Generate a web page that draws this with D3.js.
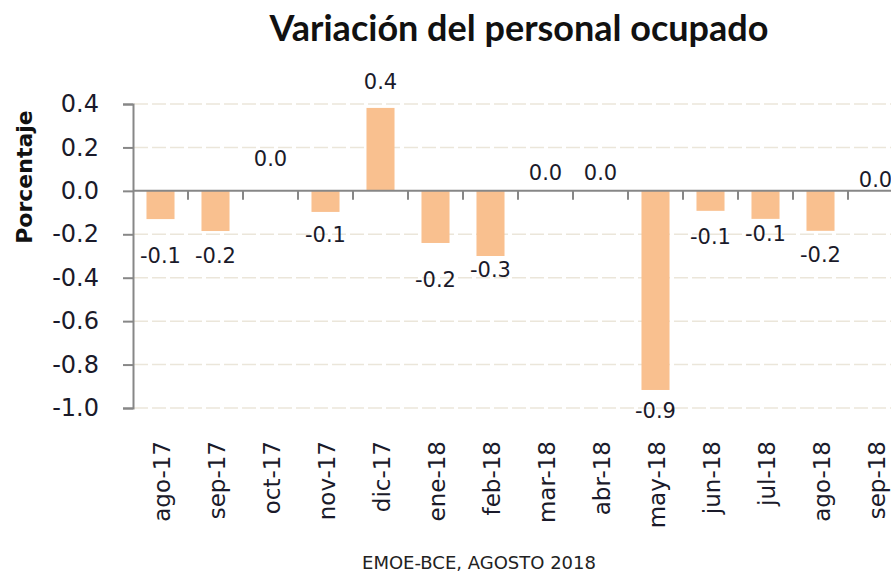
<!DOCTYPE html>
<html>
<head>
<meta charset="utf-8">
<script src="https://cdn.jsdelivr.net/npm/d3@7"></script>
<style>
	body { margin: 0; background: #fff; }
	svg { display: block; }
</style>
</head>
<body>
<svg width="891" height="578"></svg>
<script>
// datos
const months = ["ago-17", "sep-17", "oct-17", "nov-17", "dic-17", "ene-18", "feb-18",
	"mar-18", "abr-18", "may-18", "jun-18", "jul-18", "ago-18", "sep-18"];
const values = [-0.13, -0.185, 0.0, -0.097, 0.382, -0.24, -0.30,
	0.0, 0.0, -0.917, -0.092, -0.129, -0.184, 0.0];
const yTicks = [0.4, 0.2, 0.0, -0.2, -0.4, -0.6, -0.8, -1.0];
const titleText = "Variación del personal ocupado";
const yTitle = "Porcentaje";
const footerText = "EMOE-BCE, AGOSTO 2018";

// separación manual de las etiquetas (px desde el extremo de la barra)
const labelGap = [36, 24, 32, 23, 26, 36, 13, 18, 18, 20, 26, 15, 24, 11];

const svg = d3.select("svg");
// guion normal en vez del signo menos de d3
const fmt = (d) => d3.format(".1f")(d).replace("\u2212", "-");

const x = d3.scaleBand()
	.domain(months)
	.range([133, 903])
	.paddingInner(0.49)
	.paddingOuter(0.245);
const y = d3.scaleLinear().domain([-1.0, 0.4]).range([408, 104]);
const step = x.step();

// gridlines
svg.append("g")
	.selectAll("line")
	.data(yTicks.filter((d) => d !== 0))
	.join("line")
	.attr("x1", 134)
	.attr("x2", 891)
	.attr("y1", (d) => y(d))
	.attr("y2", (d) => y(d))
	.attr("stroke", "#ebe6da")
	.attr("stroke-width", 1.5)
	.attr("stroke-dasharray", "14,4");

// bars
svg.append("g")
	.selectAll("rect")
	.data(values)
	.join("rect")
	.attr("x", (d, i) => x(months[i]))
	.attr("width", x.bandwidth())
	.attr("y", (d) => Math.min(y(d), y(0)))
	.attr("height", (d) => Math.abs(y(d) - y(0)))
	.attr("fill", "#f9c08f");

// y axis
const yAxisG = svg.append("g").attr("transform", "translate(133,0)");
yAxisG.call(
	d3.axisLeft(y).tickValues(yTicks).tickSize(10).tickPadding(24).tickFormat(fmt),
);
yAxisG.select(".domain").attr("stroke", "#878787").attr("stroke-width", 2);
yAxisG.selectAll(".tick line").attr("stroke", "#878787").attr("stroke-width", 2);
yAxisG.selectAll(".tick text")
	.attr("font-family", "DejaVu Sans")
	.attr("font-size", 24)
	.attr("fill", "#1a1a2a");

// x axis at zero
svg.append("line")
	.attr("x1", 133)
	.attr("x2", 891)
	.attr("y1", y(0))
	.attr("y2", y(0))
	.attr("stroke", "#878787")
	.attr("stroke-width", 2);
svg.append("g")
	.selectAll("line")
	.data(months)
	.join("line")
	.attr("x1", (d) => x(d) + x.bandwidth() + (step - x.bandwidth()) / 2)
	.attr("x2", (d) => x(d) + x.bandwidth() + (step - x.bandwidth()) / 2)
	.attr("y1", y(0))
	.attr("y2", y(0) + 9)
	.attr("stroke", "#878787")
	.attr("stroke-width", 2);

// category labels at the bottom
svg.append("g")
	.selectAll("text")
	.data(months)
	.join("text")
	.attr("transform", (d) => `translate(${x(d) + x.bandwidth() / 2 + 9},441) rotate(-90)`)
	.attr("text-anchor", "end")
	.attr("font-family", "DejaVu Sans")
	.attr("font-size", 23)
	.attr("fill", "#1a1a2a")
	.text((d) => d);

// data labels
svg.append("g")
	.selectAll("text")
	.data(values)
	.join("text")
	.attr("x", (d, i) => x(months[i]) + x.bandwidth() / 2)
	.attr("y", (d, i) => (d < 0 ? y(d) + labelGap[i] : y(d) - labelGap[i]))
	.attr("dy", "0.36em")
	.attr("text-anchor", "middle")
	.attr("font-family", "DejaVu Sans")
	.attr("font-size", 21)
	.attr("fill", "#1a1a2a")
	.text((d) => fmt(d));

// title
svg.append("text")
	.attr("x", 519)
	.attr("y", 41)
	.attr("text-anchor", "middle")
	.attr("font-family", "Lato")
	.attr("font-weight", "bold")
	.attr("font-size", 36)
	.attr("fill", "#111")
	.text(titleText);

// y axis title
svg.append("text")
	.attr("transform", "translate(32,177) rotate(-90)")
	.attr("text-anchor", "middle")
	.attr("font-family", "DejaVu Sans")
	.attr("font-weight", "bold")
	.attr("font-size", 22)
	.attr("fill", "#111")
	.text(yTitle);

// footer
svg.append("text")
	.attr("x", 479)
	.attr("y", 569)
	.attr("text-anchor", "middle")
	.attr("font-family", "DejaVu Sans")
	.attr("font-size", 18)
	.attr("fill", "#222")
	.text(footerText);
</script>
</body>
</html>
